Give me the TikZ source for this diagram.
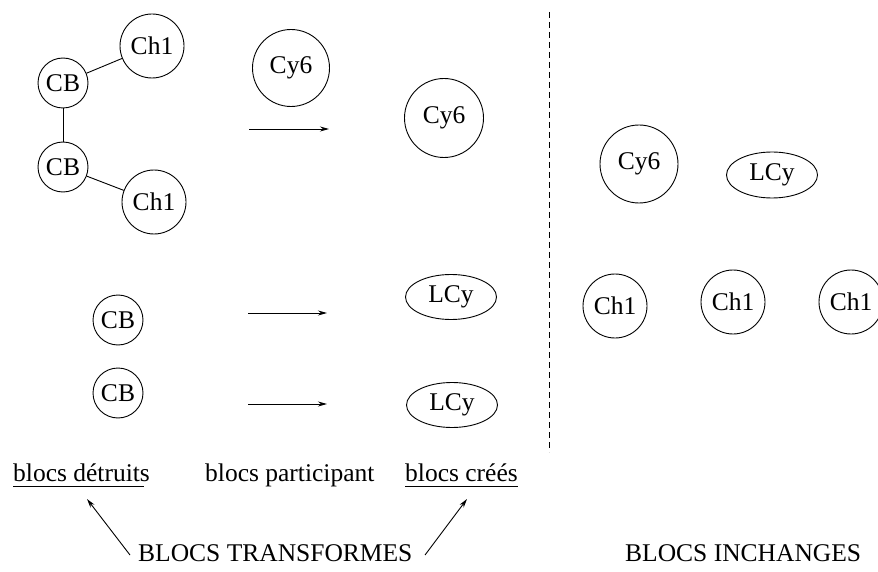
\documentclass[tikz,border=0pt]{standalone}
\usepackage{fontspec}
\setmainfont{Liberation Serif}
\usetikzlibrary{shapes.geometric,arrows.meta}
\begin{document}
\begin{tikzpicture}[x=1pt,y=-1pt,
  every node/.style={font=\fontsize{25.5}{30}\selectfont},
  ring/.style={circle,draw,line width=0.9pt,inner sep=0pt,minimum size=#1},
  oval/.style={ellipse,draw,line width=0.9pt,inner sep=0pt,minimum width=91pt,minimum height=45pt},
  link/.style={line width=0.9pt},
  arr/.style={line width=0.9pt,-{Stealth[length=9pt,width=5pt]}},
  lbl/.style={inner sep=0pt,anchor=base west},
  uline/.style={line width=0.9pt}]
\useasboundingbox (0,0) rectangle (878,572);
% left group
\node[ring=64pt] (ch1a) at (152,46) {Ch1};
\node[ring=50pt] (cba) at (63,83) {CB};
\node[ring=50pt] (cbb) at (63,167) {CB};
\node[ring=64pt] (ch1b) at (154,202) {Ch1};
\draw[link] (cba) -- (ch1a);
\draw[link] (cba) -- (cbb);
\draw[link] (cbb) -- (ch1b);
\node[ring=77pt] (cy6a) at (291,68) {Cy6};
\node[ring=79pt] (cy6b) at (444,118) {Cy6};
\coordinate (a1s) at (249,129); \coordinate (a1e) at (329,129);
\draw[arr] (a1s) -- (a1e);
\node[ring=50pt] (cbc) at (118,320) {CB};
\node[ring=50pt] (cbd) at (118,393) {CB};
\coordinate (a2s) at (248,313); \coordinate (a2e) at (327,313);
\coordinate (a3s) at (248,404); \coordinate (a3e) at (327,404);
\draw[arr] (a2s) -- (a2e);
\draw[arr] (a3s) -- (a3e);
\node[oval] (lcy1) at (451,297) {LCy};
\node[oval] (lcy2) at (452,405) {LCy};
% separator
\coordinate (sepT) at (549.5,12); \coordinate (sepB) at (549.5,452);
\draw[line width=0.9pt,dash pattern=on 6pt off 4pt] (sepT) -- (sepB);
% right group
\node[ring=78pt] (cy6c) at (639,164) {Cy6};
\node[oval,minimum height=46pt] (lcy3) at (772,175) {LCy};
\node[ring=64pt] (ch1c) at (615,306) {Ch1};
\node[ring=64pt] (ch1d) at (733,302) {Ch1};
\node[ring=64pt] (ch1e) at (851,302) {Ch1};
% labels
\node[lbl] (det) at (13,481) {blocs détruits};
\node[lbl] (part) at (205,481) {blocs participant};
\node[lbl] (cre) at (405,481) {blocs créés};
\draw[uline] ([yshift=-5pt]det.base west) -- ([yshift=-5pt,xshift=-6pt]det.base east);
\draw[uline] ([yshift=-5pt]cre.base west) -- ([yshift=-5pt]cre.base east);
\node[lbl] (trans) at (138,561) {BLOCS TRANSFORMES};
\node[lbl] (inch) at (625,561) {BLOCS INCHANGES};
\coordinate (t1s) at (130,555); \coordinate (t1e) at (87,499);
\coordinate (t2s) at (425,555); \coordinate (t2e) at (467,499);
\draw[arr] (t1s) -- (t1e);
\draw[arr] (t2s) -- (t2e);
\end{tikzpicture}
\end{document}
